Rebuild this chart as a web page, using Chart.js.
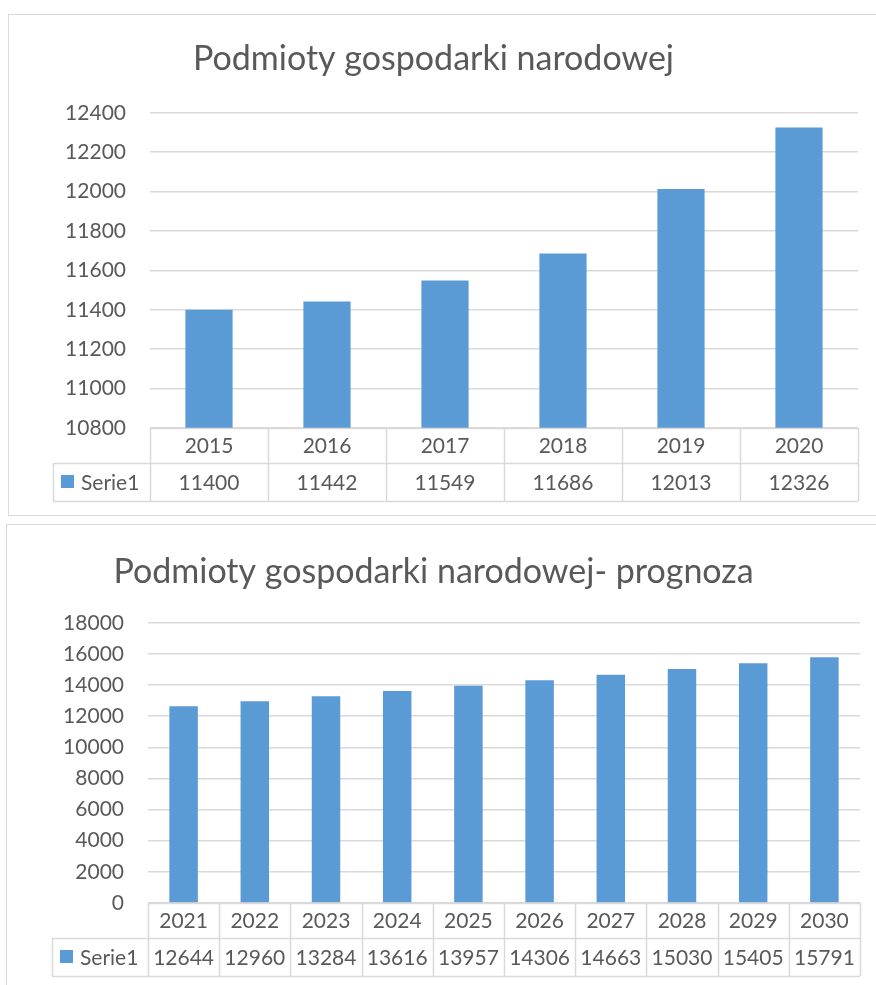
<!DOCTYPE html>
<html>
<head>
<meta charset="utf-8">
<title>Podmioty gospodarki narodowej</title>
<script src="https://cdn.jsdelivr.net/npm/chart.js@4.4.1/dist/chart.umd.min.js"></script>
<style>
  body { margin: 0; background: #fff; width: 876px; height: 985px; overflow: hidden; position: relative; }
  .box { position: absolute; border: 1px solid #d9d9d9; background: #fff; }
  #box1 { left: 8px; top: 14px; width: 880px; height: 500px; }
  #box2 { left: 6px; top: 524px; width: 884px; height: 470px; }
  canvas { display: block; }
</style>
</head>
<body>
<div class="box" id="box1"><canvas id="chart1" width="880" height="500"></canvas></div>
<div class="box" id="box2"><canvas id="chart2" width="884" height="470"></canvas></div>

<script>
// dane - wykres 1
const years1 = ['2015', '2016', '2017', '2018', '2019', '2020'];
const values1 = [11400, 11442, 11549, 11686, 12013, 12326];

// dane - wykres 2 (prognoza)
const years2 = ['2021', '2022', '2023', '2024', '2025', '2026', '2027', '2028', '2029', '2030'];
const values2 = [12644, 12960, 13284, 13616, 13957, 14306, 14663, 15030, 15405, 15791];

const seriesName = 'Serie1';
const title1 = 'Podmioty gospodarki narodowej';
const title2 = 'Podmioty gospodarki narodowej- prognoza';

const TEXT = '#595959';
const GRID = '#d9d9d9';
const BAR = '#5b9bd5';
const FONT = 'Lato, "Open Sans", sans-serif';

/* tabela danych pod osia X (jak w Excelu) */
const dataTable = {
  id: 'dataTable',
  afterDraw(chart, args, opts) {
    const { ctx, chartArea } = chart;
    const x = chart.scales.x;
    const labels = chart.data.labels;
    const vals = chart.data.datasets[0].data;
    const n = labels.length;
    const w = (chartArea.right - chartArea.left) / n;
    const top = Math.round(chartArea.bottom);
    const mid = top + opts.headH;
    const bot = mid + opts.rowH;
    const left = Math.round(chartArea.left);
    const right = Math.round(chartArea.right);
    const labelLeft = opts.labelLeft;

    const line = (x1, y1, x2, y2) => {
      ctx.beginPath();
      ctx.moveTo(x1, y1);
      ctx.lineTo(x2, y2);
      ctx.stroke();
    };

    ctx.save();
    ctx.strokeStyle = GRID;
    ctx.lineWidth = 1.5;
    line(left, top + 0.5, right, top + 0.5);
    line(labelLeft, mid + 0.5, right, mid + 0.5);
    line(labelLeft, bot + 0.5, right, bot + 0.5);
    line(labelLeft + 0.5, mid, labelLeft + 0.5, bot);
    for (let i = 0; i <= n; i++) {
      const xx = Math.round(chartArea.left + i * w) + 0.5;
      line(xx, top, xx, bot);
    }

    ctx.fillStyle = TEXT;
    ctx.font = '21px ' + FONT;
    ctx.textAlign = 'center';
    ctx.textBaseline = 'middle';
    for (let i = 0; i < n; i++) {
      const cx = x.getPixelForValue(i);
      ctx.fillText(labels[i], cx, (top + mid) / 2 + 1);
      ctx.fillText(String(vals[i]), cx, (mid + bot) / 2 + 1);
    }

    // legenda w tabeli
    const ry = (mid + bot) / 2;
    ctx.fillStyle = BAR;
    ctx.fillRect(labelLeft + 8, ry - 7, 13, 13);
    ctx.fillStyle = TEXT;
    ctx.textAlign = 'left';
    ctx.fillText(seriesName, labelLeft + 28, ry + 1);
    ctx.restore();
  }
};

function makeChart(id, labels, values, title, cfg) {
  const ctx = document.getElementById(id).getContext('2d');
  return new Chart(ctx, {
    type: 'bar',
    data: {
      labels,
      datasets: [{
        label: seriesName,
        data: values,
        backgroundColor: BAR,
        borderWidth: 0,
        categoryPercentage: 1,
        barPercentage: 0.4
      }]
    },
    options: {
      responsive: false,
      animation: false,
      layout: { padding: { left: 0, right: cfg.padRight, top: 0, bottom: cfg.padBottom } },
      plugins: {
        legend: { display: false },
        tooltip: { enabled: false },
        title: {
          display: true,
          text: title,
          color: TEXT,
          font: { family: FONT, size: 34, weight: 'normal', lineHeight: 1.2 },
          padding: { top: cfg.titleTop, bottom: cfg.titleBottom }
        },
        dataTable: { headH: 35, rowH: 38, labelLeft: cfg.labelLeft }
      },
      scales: {
        x: { display: false },
        y: {
          min: cfg.min,
          max: cfg.max,
          ticks: {
            stepSize: cfg.step,
            color: TEXT,
            padding: 24,
            font: { family: FONT, size: 21 },
            callback: (v) => String(v)
          },
          grid: { color: GRID, lineWidth: 1.5, drawTicks: false },
          border: { display: false },
          afterFit(scale) { scale.width = 141; }
        }
      }
    },
    plugins: [dataTable]
  });
}

makeChart('chart1', years1, values1, title1, {
  min: 10800, max: 12400, step: 200,
  padRight: 31, padBottom: 87,
  titleTop: 24, titleBottom: 33,
  labelLeft: 44
});

makeChart('chart2', years2, values2, title2, {
  min: 0, max: 18000, step: 2000,
  padRight: 31, padBottom: 92,
  titleTop: 27, titleBottom: 30,
  labelLeft: 45
});
</script>
</body>
</html>
